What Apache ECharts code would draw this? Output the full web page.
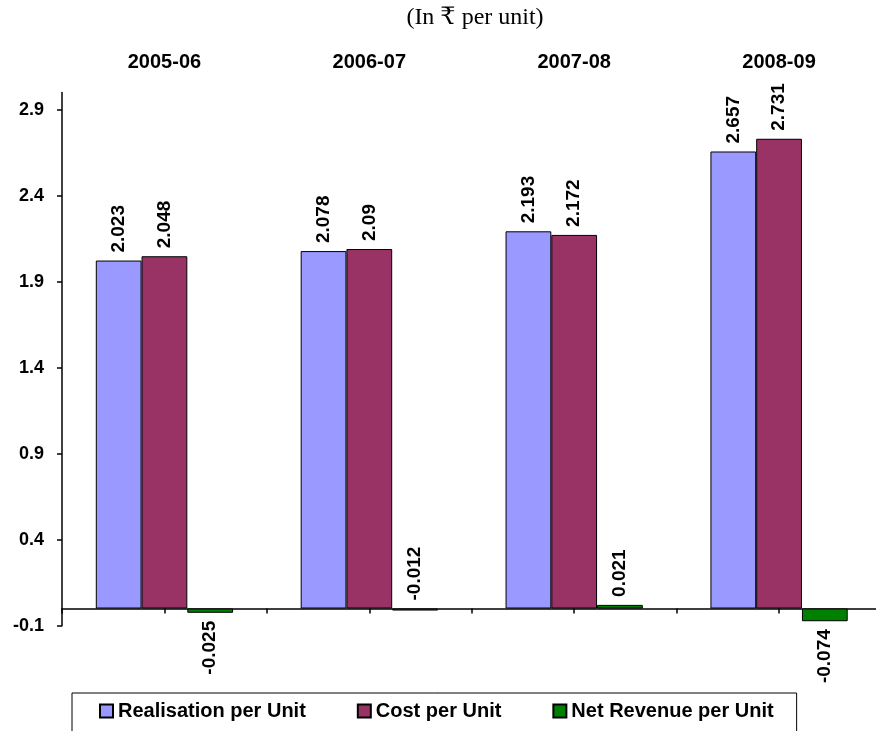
<!DOCTYPE html>
<html>
<head>
<meta charset="utf-8">
<script src="https://cdn.jsdelivr.net/npm/echarts@6/dist/echarts.min.js"></script>
<style>
  html, body { margin: 0; padding: 0; background: #fff; overflow: hidden; }
  #chart { width: 876px; height: 731px; }
</style>
</head>
<body>
<div id="chart"></div>
<script>
// Per-unit figures by financial year
const categories = ['2005-06', '2006-07', '2007-08', '2008-09'];
const realisation = [2.023, 2.078, 2.193, 2.657];
const cost = [2.048, 2.09, 2.172, 2.731];
const netRevenue = [-0.025, -0.012, 0.021, -0.074];
// Which side of the net-revenue bar its value label sits on
const netLabelSide = ['bottom', 'top', 'top', 'bottom'];
// Value-axis tick labels
const yTicks = [-0.1, 0.4, 0.9, 1.4, 1.9, 2.4, 2.9];
// Half-category tick marks along the zero line
const halfTickCount = categories.length * 2;

const seriesNames = ['Realisation per Unit', 'Cost per Unit', 'Net Revenue per Unit'];
const seriesColors = ['#9999FF', '#993366', '#008000'];

const labelFont = {
  fontFamily: "'Liberation Sans', Arial, sans-serif",
  fontWeight: 'bold',
  color: '#000'
};

function valueLabel(side) {
  return Object.assign({
    show: true,
    position: side,
    distance: 8,
    rotate: 90,
    align: side === 'top' ? 'left' : 'right',
    verticalAlign: 'middle',
    fontSize: 19
  }, labelFont);
}

function barSeries(name, values, color, sides) {
  return {
    name: name,
    type: 'bar',
    xAxisIndex: 0,
    yAxisIndex: 0,
    barGap: '0%',
    barCategoryGap: '33%',
    itemStyle: { color: color, borderColor: '#000', borderWidth: 1 },
    label: valueLabel('top'),
    data: values.map((v, i) => sides
      ? { value: v, label: valueLabel(sides[i]) }
      : v),
    animation: false
  };
}

const chart = echarts.init(document.getElementById('chart'), null, { renderer: 'canvas' });

chart.setOption({
  backgroundColor: '#fff',
  animation: false,
  title: {
    text: '(In \u20B9 per unit)',
    left: 470,
    top: 1,
    textAlign: 'center',
    textStyle: {
      fontFamily: "'Liberation Serif', 'DejaVu Serif', 'Noto Sans', serif",
      fontWeight: 'normal',
      fontSize: 24,
      color: '#000'
    }
  },
  legend: {
    left: 72,
    top: 693,
    padding: [8, 23, 30, 27],
    itemGap: 51,
    itemWidth: 13,
    itemHeight: 13,
    icon: 'rect',
    borderColor: '#000',
    borderWidth: 1,
    textStyle: Object.assign({ fontSize: 20 }, labelFont),
    data: seriesNames
  },
  grid: {
    left: 62,
    top: 92.5,
    right: -5.5,
    bottom: 105.3,
    containLabel: false,
    outerBoundsMode: 'none'
  },
  xAxis: [
    {
      type: 'category',
      data: categories,
      position: 'top',
      axisLine: { show: false, onZero: false },
      axisTick: { show: false },
      axisLabel: Object.assign({ margin: 20, fontSize: 20, interval: 0 }, labelFont),
      splitLine: { show: false }
    },
    {
      type: 'value',
      min: 0,
      max: halfTickCount,
      interval: 1,
      position: 'bottom',
      axisLine: { show: true, onZero: true, onZeroAxisIndex: 0, lineStyle: { color: '#000', width: 1.5 } },
      axisTick: { show: true, inside: false, length: 5, lineStyle: { color: '#000', width: 1.5 } },
      axisLabel: { show: false },
      splitLine: { show: false }
    }
  ],
  yAxis: {
    type: 'value',
    min: -0.1,
    max: 3.0,
    axisLine: { show: true, onZero: false, lineStyle: { color: '#000', width: 1.5 } },
    axisTick: { show: true, inside: false, length: 5, customValues: yTicks, lineStyle: { color: '#000', width: 1.5 } },
    axisLabel: Object.assign({
      customValues: yTicks,
      margin: 18,
      fontSize: 18,
      formatter: v => v.toFixed(1)
    }, labelFont),
    splitLine: { show: false }
  },
  series: [
    barSeries(seriesNames[0], realisation, seriesColors[0]),
    barSeries(seriesNames[1], cost, seriesColors[1]),
    barSeries(seriesNames[2], netRevenue, seriesColors[2], netLabelSide)
  ]
});
</script>
</body>
</html>
